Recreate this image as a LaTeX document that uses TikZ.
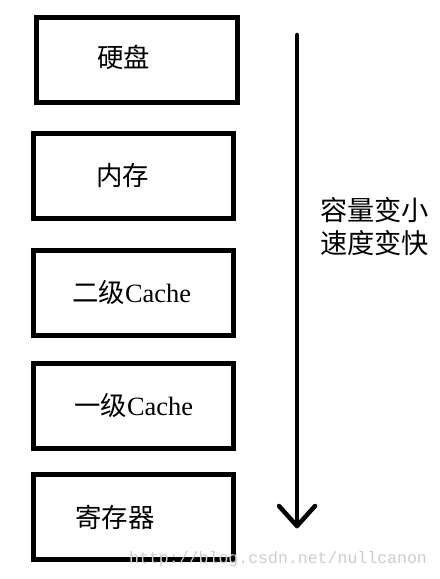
\documentclass[tikz,border=0pt]{standalone}
\usepackage{fontspec}
\setmainfont{Liberation Serif}
\newfontfamily\cjk{Noto Sans CJK SC}
\newfontfamily\wmfont{Liberation Mono}
\definecolor{wmgray}{RGB}{205,205,205}
\begin{document}
\begin{tikzpicture}[x=1bp,y=-1bp,
  box/.style={draw=black,line width=5bp,inner sep=0pt},
  lbl/.style={anchor=west,inner sep=0pt,font=\fontsize{26.5}{30}\selectfont},
  rtxt/.style={anchor=west,inner sep=0pt,font=\cjk\fontsize{27.3}{30}\selectfont},
  arr/.style={line width=4.5bp,line cap=round,line join=round},
  wm/.style={anchor=west,inner sep=0pt,text=wmgray,font=\wmfont\fontsize{16.6}{18}\selectfont}]
\useasboundingbox (0,0) rectangle (440,579);
\fill[white] (0,0) rectangle (440,579);
% boxes
\node[box,minimum width=201bp,minimum height=85bp] (b1) at (137,60) {};
\node[box,minimum width=200bp,minimum height=85bp] (b2) at (133.5,176) {};
\node[box,minimum width=200bp,minimum height=85bp] (b3) at (133.5,293) {};
\node[box,minimum width=200bp,minimum height=85bp] (b4) at (133.5,406) {};
\node[box,minimum width=200bp,minimum height=85bp] (b5) at (133.5,517) {};
% labels
\node[lbl] (t1) at (97,57) {\cjk 硬盘};
\node[lbl] (t2) at (96,175) {\cjk 内存};
\node[lbl] (t3) at (72,292) {{\cjk 二级}Cache};
\node[lbl] (t4) at (74,405) {{\cjk 一级}Cache};
\node[lbl] (t5) at (75,517) {\cjk 寄存器};
% arrow
\coordinate (top) at (297,35);
\coordinate (tip) at (297,526);
\coordinate (tl) at (279,506);
\coordinate (tr) at (315,506);
\draw[arr] (top) -- (tip);
\draw[arr] (tl) -- (tip) -- (tr);
% right text
\node[rtxt] (r1) at (320,210) {容量变小};
\node[rtxt] (r2) at (320,243) {速度变快};
% watermark
\node[wm] (w) at (129,559) {http://blog.csdn.net/nullcanon};
\end{tikzpicture}
\end{document}
